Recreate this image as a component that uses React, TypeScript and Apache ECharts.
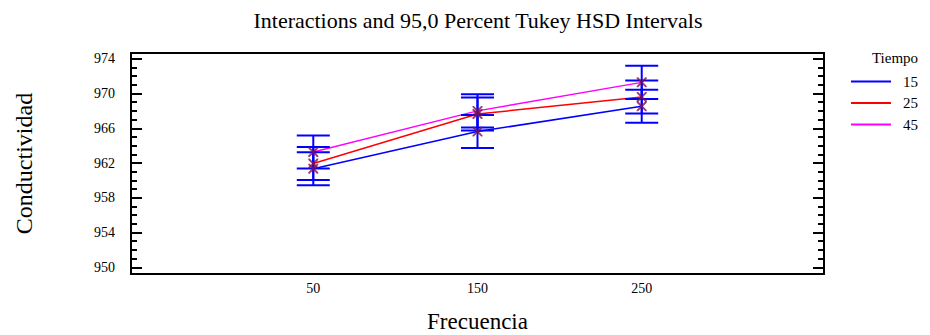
import React, { useEffect, useRef } from 'react';
import * as echarts from 'echarts';

// ---- data ----
const frequencies = [50, 150, 250];
const tiempos = ['15', '25', '45'];
const means15 = [961.35, 965.62, 968.52];
const means25 = [961.94, 967.64, 969.6];
const means45 = [963.27, 968.0, 971.28];
const hsdHalfWidth = 1.9; // half-length of each Tukey HSD interval
const yMajorTicks = [950, 954, 958, 962, 966, 970, 974];
const yMinorTicks = [951, 952, 953, 955, 956, 957, 959, 960, 961, 963, 964, 965, 967, 968, 969, 971, 972, 973];
const xTickValues = [50, 150, 250];

const lineColors = ['#0000ff', '#ff0000', '#ff00ff'];
const FONT = "'Liberation Serif', 'DejaVu Serif', serif";
const Y_MIN = 949.23;
const Y_MAX = 974.66;
const X_MIN = -61;
const X_MAX = 361;

export default function App() {
  const ref = useRef<HTMLDivElement>(null);

  useEffect(() => {
    if (!ref.current) return;
    const chart = echarts.init(ref.current, undefined, { renderer: 'svg' });
    const allMeans = [means15, means25, means45];

    const lineSeries = tiempos.map((t, i) => ({
      name: t,
      type: 'line',
      xAxisIndex: 0,
      yAxisIndex: 0,
      data: frequencies.map((f, j) => [f, allMeans[i][j]]),
      symbol: 'none',
      color: lineColors[i],
      lineStyle: { color: lineColors[i], width: 1.5 },
      z: 2,
    }));

    const barData: number[][] = [];
    const markerData: number[][] = [];
    allMeans.forEach((ms) => {
      frequencies.forEach((f, j) => {
        barData.push([f, ms[j] - hsdHalfWidth, ms[j] + hsdHalfWidth]);
        markerData.push([f, ms[j]]);
      });
    });

    const capHalf = 16.5;
    const option: any = {
      animation: false,
      backgroundColor: '#ffffff',
      title: [
        {
          text: 'Interactions and 95,0 Percent Tukey HSD Intervals',
          left: 478,
          top: 9,
          textAlign: 'center',
          padding: 0,
          textStyle: { fontFamily: FONT, fontSize: 22, fontWeight: 'normal', color: '#000' },
        },
        {
          text: 'Tiempo',
          left: 895,
          top: 50,
          textAlign: 'center',
          padding: 0,
          textStyle: { fontFamily: FONT, fontSize: 15, fontWeight: 'normal', color: '#000' },
        },
      ],
      legend: {
        data: tiempos.map((t) => ({ name: t, icon: 'rect' })),
        orient: 'vertical',
        left: 851,
        top: 74,
        padding: 0,
        itemWidth: 40,
        itemHeight: 2,
        itemGap: 6.5,
        textStyle: { fontFamily: FONT, fontSize: 15, color: '#000', lineHeight: 14, padding: [0, 0, 0, 7] },
      },
      grid: { left: 131, right: 106, top: 53, bottom: 61, containLabel: false, outerBoundsMode: 'none' },
      xAxis: [
        {
          type: 'value',
          position: 'bottom',
          min: X_MIN,
          max: X_MAX,
          name: 'Frecuencia',
          nameLocation: 'middle',
          nameGap: 36,
          nameTextStyle: { fontFamily: FONT, fontSize: 23, color: '#000' },
          axisLine: { show: true, onZero: false, lineStyle: { color: '#000', width: 2 } },
          axisTick: { show: false },
          axisLabel: { customValues: xTickValues, fontFamily: FONT, fontSize: 14, color: '#000', margin: 7 },
          splitLine: { show: false },
        },
        {
          type: 'value',
          position: 'top',
          min: X_MIN,
          max: X_MAX,
          axisLine: { show: true, onZero: false, lineStyle: { color: '#000', width: 2 } },
          axisTick: { show: false },
          axisLabel: { show: false },
          splitLine: { show: false },
        },
      ],
      yAxis: [
        {
          type: 'value',
          position: 'left',
          min: Y_MIN,
          max: Y_MAX,
          name: 'Conductividad',
          nameLocation: 'middle',
          nameGap: 95,
          nameTextStyle: { fontFamily: FONT, fontSize: 24, color: '#000' },
          axisLine: { show: true, onZero: false, lineStyle: { color: '#000', width: 2 } },
          axisTick: { show: true, inside: true, length: 11, customValues: yMajorTicks, lineStyle: { color: '#000', width: 2 } },
          axisLabel: { customValues: yMajorTicks, fontFamily: FONT, fontSize: 14, color: '#000', margin: 16 },
          splitLine: { show: false },
        },
        {
          type: 'value',
          position: 'left',
          min: Y_MIN,
          max: Y_MAX,
          axisLine: { show: false, onZero: false },
          axisTick: { show: true, inside: true, length: 6, customValues: yMinorTicks, lineStyle: { color: '#000', width: 2 } },
          axisLabel: { show: false },
          splitLine: { show: false },
        },
        {
          type: 'value',
          position: 'right',
          min: Y_MIN,
          max: Y_MAX,
          axisLine: { show: true, onZero: false, lineStyle: { color: '#000', width: 2 } },
          axisTick: { show: true, inside: true, length: 11, customValues: yMajorTicks, lineStyle: { color: '#000', width: 2 } },
          axisLabel: { show: false },
          splitLine: { show: false },
        },
        {
          type: 'value',
          position: 'right',
          min: Y_MIN,
          max: Y_MAX,
          axisLine: { show: false, onZero: false },
          axisTick: { show: true, inside: true, length: 6, customValues: yMinorTicks, lineStyle: { color: '#000', width: 2 } },
          axisLabel: { show: false },
          splitLine: { show: false },
        },
      ],
      series: [
        ...lineSeries,
        {
          name: 'HSD',
          type: 'custom',
          xAxisIndex: 0,
          yAxisIndex: 0,
          data: barData,
          encode: { x: 0, y: [1, 2] },
          z: 3,
          renderItem: (params: any, api: any) => {
            const x = api.value(0);
            const lo = api.coord([x, api.value(1)]);
            const hi = api.coord([x, api.value(2)]);
            const style = { stroke: '#0000ff', lineWidth: 2, fill: 'none' };
            return {
              type: 'group',
              children: [
                { type: 'line', shape: { x1: lo[0], y1: lo[1], x2: hi[0], y2: hi[1] }, style },
                { type: 'line', shape: { x1: lo[0] - capHalf, y1: lo[1], x2: lo[0] + capHalf, y2: lo[1] }, style },
                { type: 'line', shape: { x1: hi[0] - capHalf, y1: hi[1], x2: hi[0] + capHalf, y2: hi[1] }, style },
              ],
            };
          },
        },
        {
          name: 'means',
          type: 'scatter',
          xAxisIndex: 0,
          yAxisIndex: 0,
          data: markerData,
          symbol: 'path://M0,0 L1.4,0 L10,8.6 L10,10 L8.6,10 L0,1.4 Z M8.6,0 L10,0 L10,1.4 L1.4,10 L0,10 L0,8.6 Z',
          symbolSize: 10,
          itemStyle: { color: '#801050' },
          z: 4,
        },
      ],
    };

    chart.setOption(option);
    return () => chart.dispose();
  }, []);

  return (
    <div
      ref={ref}
      style={{ position: 'absolute', left: 0, top: 0, width: 930, height: 335, background: '#fff' }}
    />
  );
}
